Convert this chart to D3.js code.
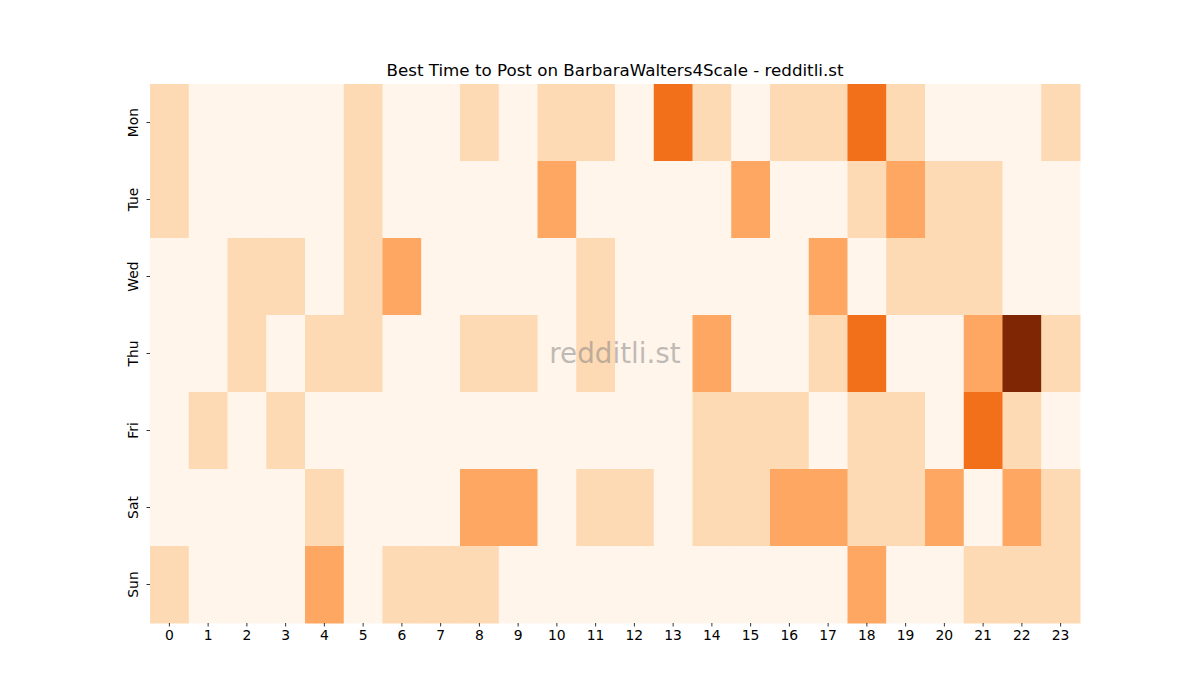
<!DOCTYPE html>
<html lang="en">
<head>
  <meta charset="UTF-8" />
  <title>Best Time to Post</title>
  <script src="https://cdn.jsdelivr.net/npm/d3@7/dist/d3.min.js"></script>
  <style>
    body { margin: 0; background: #fff; }
    svg { display: block; font-family: "DejaVu Sans", sans-serif; }
  </style>
</head>
<body>
  <div id="chart"></div>
  <script>
    // data
    const days = ["Mon", "Tue", "Wed", "Thu", "Fri", "Sat", "Sun"];
    const hours = d3.range(24);
    const mon = [1,0,0,0,0,1,0,0,1,0,1,1,0,3,1,0,1,1,3,1,0,0,0,1];
    const tue = [1,0,0,0,0,1,0,0,0,0,2,0,0,0,0,2,0,0,1,2,1,1,0,0];
    const wed = [0,0,1,1,0,1,2,0,0,0,0,1,0,0,0,0,0,2,0,1,1,1,0,0];
    const thu = [0,0,1,0,1,1,0,0,1,1,0,1,0,0,2,0,0,1,3,0,0,2,5,1];
    const fri = [0,1,0,1,0,0,0,0,0,0,0,0,0,0,1,1,1,0,1,1,0,3,1,0];
    const sat = [0,0,0,0,1,0,0,0,2,2,0,1,1,0,1,1,2,2,1,1,2,0,2,1];
    const sun = [1,0,0,0,2,0,1,1,1,0,0,0,0,0,0,0,0,0,2,0,0,1,1,1];
    const rows = [mon, tue, wed, thu, fri, sat, sun];

    const width = 1200, height = 700;
    const margin = { left: 150, right: 120, top: 84, bottom: 77 };

    const svg = d3.select("#chart").append("svg")
      .attr("width", width)
      .attr("height", height);

    const x = d3.scaleBand().domain(hours).range([margin.left, width - margin.right]);
    const y = d3.scaleBand().domain(days).range([margin.top, height - margin.bottom]);

    // matplotlib Oranges
    const oranges = ["#fff5eb","#fee6ce","#fdd0a2","#fdae6b","#fd8d3c","#f16913","#d94801","#a63603","#7f2704"];
    const vmax = d3.max(rows.flat());
    const color = d3.scaleLinear()
      .domain(oranges.map((c, i) => i / (oranges.length - 1) * vmax))
      .range(oranges)
      .interpolate(d3.interpolateRgb);

    const cells = [];
    rows.forEach((r, i) => r.forEach((v, h) => cells.push({ day: days[i], hour: h, v })));

    svg.append("g").selectAll("rect")
      .data(cells)
      .join("rect")
      .attr("x", d => x(d.hour))
      .attr("y", d => y(d.day))
      .attr("width", x.bandwidth() + 0.5)
      .attr("height", y.bandwidth() + 0.5)
      .attr("fill", d => color(d.v));

    // axes
    const xAxis = svg.append("g")
      .attr("transform", `translate(0,${height - margin.bottom})`)
      .call(d3.axisBottom(x).tickSize(3.5).tickPadding(3.5));
    const yAxis = svg.append("g")
      .attr("transform", `translate(${margin.left},0)`)
      .call(d3.axisLeft(y).tickSize(3.5).tickPadding(3.5));
    [xAxis, yAxis].forEach(a => {
      a.select(".domain").remove();
      a.selectAll("line").attr("stroke", "#000").attr("stroke-width", 0.8);
      a.selectAll("text").attr("font-size", 13.9).attr("fill", "#000")
        .attr("font-family", "DejaVu Sans, sans-serif");
    });
    yAxis.selectAll("text")
      .attr("x", null).attr("dy", null)
      .attr("text-anchor", "middle")
      .attr("transform", "translate(-12,0) rotate(-90)")
      .attr("dominant-baseline", "auto")
      .attr("y", 0);

    // title
    svg.append("text")
      .attr("x", (margin.left + width - margin.right) / 2)
      .attr("y", 76)
      .attr("text-anchor", "middle")
      .attr("font-size", 16.7)
      .attr("fill", "#000")
      .text("Best Time to Post on BarbaraWalters4Scale - redditli.st");

    // watermark
    svg.append("text")
      .attr("x", (margin.left + width - margin.right) / 2)
      .attr("y", (margin.top + height - margin.bottom) / 2)
      .attr("text-anchor", "middle")
      .attr("dominant-baseline", "central")
      .attr("font-size", 27.8)
      .attr("fill", "#808080")
      .attr("fill-opacity", 0.5)
      .text("redditli.st");
  </script>
</body>
</html>
